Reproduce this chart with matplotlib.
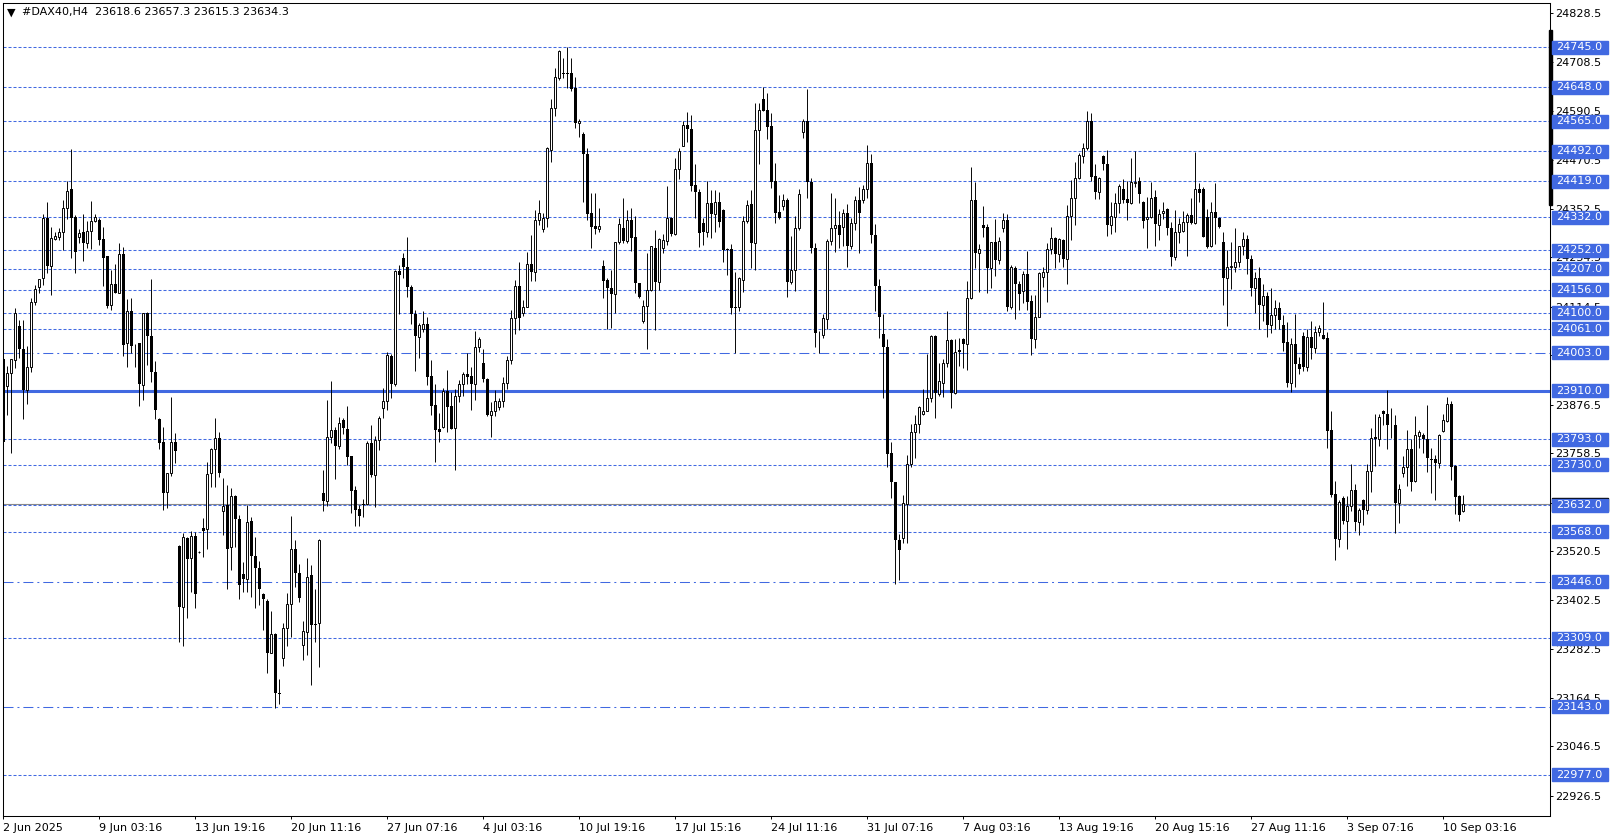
import numpy as np
import matplotlib
matplotlib.use('Agg')
import matplotlib.pyplot as plt
import matplotlib.transforms as mtransforms
from matplotlib.patches import Rectangle

plt.rcParams['font.family'] = ['DejaVu Sans']

header = '#DAX40,H4  23618.6 23657.3 23615.3 23634.3'

# H4 candles (oldest first)
opens = [
    23987, 23923, 23953, 23985, 24068, 24011, 23912, 23967, 24127, 24163,
    24184, 24329, 24214, 24280, 24285, 24297, 24355, 24400, 24332, 24285,
    24295, 24269, 24299, 24324, 24325, 24279, 24238, 24119, 24171, 24147,
    24243, 24026, 24105, 24020, 24026, 23924, 24099, 24044, 23957, 23841,
    23787, 23665, 23710, 23785, 23533, 23384, 23552, 23505, 23557, 23519,
    23578, 23574, 23710, 23770, 23795, 23618, 23633, 23530, 23655, 23598,
    23464, 23452, 23594, 23510, 23479, 23417, 23399, 23274, 23319, 23175,
    23260, 23333, 23392, 23527, 23467, 23293, 23325, 23463, 23343, 23345,
    23663, 23643, 23799, 23815, 23775, 23839, 23817, 23752, 23669, 23622,
    23635, 23635, 23784, 23706, 23791, 23868, 23886, 23995, 23927, 24201,
    24232, 24210, 24162, 24096, 24042, 24060, 24072, 23946, 23876, 23817,
    23823, 23911, 23873, 23819, 23898, 23927, 23951, 23946, 23927, 24017,
    23977, 23939, 23851, 23860, 23872, 23885, 23930, 23985, 24088, 24165,
    24099, 24115, 24218, 24198, 24325, 24303, 24331, 24496, 24597, 24671,
    24682, 24682, 24682, 24647, 24560, 24534, 24485, 24342, 24311, 24303,
    24214, 24180, 24161, 24146, 24271, 24307, 24275, 24325, 24283, 24172,
    24081, 24117, 24155, 24257, 24174, 24258, 24275, 24331, 24291, 24449,
    24506, 24555, 24546, 24410, 24393, 24317, 24295, 24366, 24339, 24368,
    24350, 24254, 24254, 24115, 24115, 24180, 24323, 24364, 24269, 24544,
    24619, 24593, 24554, 24420, 24345, 24359, 24374, 24174, 24205, 24307,
    24538, 24566, 24418, 24258, 24054, 24046, 24084, 24275, 24305, 24312,
    24309, 24342, 24261, 24317, 24374, 24374, 24400, 24463, 24290, 24166,
    24048, 24016, 23758, 23688, 23548, 23552, 23635, 23732, 23809, 23830,
    23855, 23861, 23894, 24043, 23902, 23930, 23977, 24034, 23906, 24009,
    24035, 24024, 24135, 24374, 24246, 24313, 24309, 24208, 24271, 24227,
    24307, 24325, 24115, 24208, 24169, 24154, 24194, 24129, 24035, 24090,
    24186, 24200, 24254, 24281, 24243, 24277, 24230, 24334, 24380, 24427,
    24481, 24501, 24566, 24432, 24394, 24481, 24461, 24313, 24332, 24366,
    24400, 24376, 24366, 24416, 24419, 24368, 24327, 24332, 24382, 24313,
    24342, 24351, 24305, 24236, 24297, 24299, 24320, 24338, 24319, 24400,
    24400, 24332, 24261, 24344, 24329, 24271, 24184, 24212, 24212, 24223,
    24261, 24280, 24230, 24160, 24185, 24120, 24140, 24070, 24095, 24111,
    24070, 24028, 23930, 24023, 23975, 24043, 23969, 24040, 24015, 24052,
    24047, 24038, 23815, 23659, 23549, 23651, 23595, 23631, 23669, 23591,
    23645, 23621, 23715, 23797, 23792, 23861, 23855, 23827, 23827, 23637,
    23711, 23724, 23768, 23692, 23801, 23803, 23792, 23744, 23744, 23734,
    23813, 23838, 23878, 23728, 23655, 23618.6,
]
highs = [
    24017, 23971, 23988, 24111, 24082, 24082, 24019, 24135, 24167, 24183,
    24341, 24370, 24309, 24297, 24307, 24374, 24420, 24498, 24337, 24303,
    24340, 24323, 24371, 24341, 24329, 24309, 24239, 24205, 24218, 24269,
    24259, 24133, 24135, 24023, 24027, 24100, 24101, 24181, 23983, 23843,
    23823, 23711, 23896, 23807, 23535, 23564, 23554, 23570, 23568, 23522,
    23602, 23738, 23772, 23845, 23811, 23698, 23681, 23673, 23656, 23608,
    23495, 23633, 23604, 23556, 23497, 23418, 23404, 23375, 23321, 23209,
    23345, 23420, 23606, 23548, 23489, 23351, 23505, 23487, 23428, 23549,
    23718, 23888, 23934, 23823, 23846, 23843, 23873, 23753, 23679, 23634,
    23647, 23788, 23827, 23801, 23849, 23916, 24005, 24000, 24205, 24216,
    24246, 24285, 24167, 24107, 24074, 24105, 24090, 23985, 23927, 23856,
    23916, 23962, 23908, 23914, 23936, 23957, 24001, 23969, 24056, 24042,
    24012, 23941, 23884, 23912, 23892, 23945, 23995, 24107, 24180, 24224,
    24131, 24248, 24289, 24350, 24374, 24342, 24502, 24619, 24694, 24739,
    24718, 24745, 24718, 24674, 24571, 24540, 24500, 24390, 24390, 24355,
    24228, 24185, 24204, 24273, 24330, 24380, 24350, 24355, 24334, 24173,
    24131, 24244, 24263, 24300, 24281, 24291, 24408, 24333, 24477, 24500,
    24566, 24587, 24581, 24462, 24401, 24331, 24420, 24398, 24398, 24394,
    24352, 24257, 24266, 24200, 24188, 24336, 24374, 24398, 24610, 24609,
    24649, 24633, 24586, 24463, 24386, 24388, 24378, 24286, 24335, 24400,
    24570, 24643, 24427, 24269, 24056, 24097, 24278, 24390, 24378, 24347,
    24351, 24364, 24329, 24384, 24406, 24410, 24508, 24486, 24316, 24182,
    24097, 24035, 23787, 23689, 23562, 23657, 23754, 23830, 23851, 23873,
    23914, 23999, 24046, 24046, 23979, 23987, 24103, 24035, 24035, 24038,
    24038, 24177, 24453, 24418, 24266, 24359, 24316, 24273, 24328, 24283,
    24342, 24339, 24216, 24214, 24176, 24202, 24250, 24143, 24143, 24200,
    24210, 24269, 24309, 24285, 24282, 24278, 24362, 24423, 24467, 24489,
    24512, 24590, 24586, 24461, 24431, 24483, 24495, 24368, 24392, 24413,
    24424, 24421, 24475, 24493, 24431, 24372, 24382, 24417, 24398, 24351,
    24368, 24354, 24320, 24350, 24329, 24347, 24342, 24378, 24490, 24416,
    24405, 24351, 24370, 24416, 24333, 24295, 24252, 24273, 24305, 24262,
    24295, 24290, 24240, 24200, 24210, 24170, 24150, 24160, 24130, 24125,
    24094, 24078, 24038, 24097, 23992, 24054, 24060, 24080, 24068, 24070,
    24125, 24054, 23861, 23691, 23645, 23655, 23655, 23732, 23685, 23625,
    23647, 23732, 23819, 23855, 23855, 23864, 23912, 23868, 23851, 23685,
    23752, 23815, 23793, 23849, 23815, 23807, 23876, 23772, 23754, 23805,
    23855, 23896, 23886, 23730, 23657, 23657.3,
]
lows = [
    23780, 23851, 23758, 23965, 23991, 23841, 23878, 23957, 24119, 24147,
    24167, 24197, 24143, 24277, 24277, 24252, 24327, 24234, 24197, 24269,
    24226, 24258, 24255, 24321, 24265, 24166, 24111, 24107, 24147, 24147,
    23995, 23969, 24001, 23967, 23873, 23889, 23973, 23932, 23841, 23770,
    23621, 23626, 23704, 23734, 23300, 23290, 23357, 23422, 23382, 23517,
    23507, 23527, 23676, 23676, 23700, 23560, 23428, 23475, 23531, 23404,
    23422, 23422, 23410, 23382, 23390, 23329, 23224, 23272, 23140, 23150,
    23242, 23290, 23311, 23434, 23398, 23256, 23268, 23195, 23301, 23238,
    23617, 23630, 23783, 23695, 23770, 23805, 23730, 23614, 23582, 23582,
    23603, 23633, 23702, 23629, 23766, 23843, 23864, 23892, 23923, 24096,
    24184, 24139, 24073, 23959, 23989, 24052, 23924, 23851, 23738, 23787,
    23821, 23811, 23817, 23719, 23884, 23898, 23928, 23864, 23888, 24005,
    23932, 23849, 23799, 23849, 23864, 23870, 23915, 23975, 24048, 24058,
    24092, 24115, 24177, 24177, 24312, 24295, 24309, 24466, 24579, 24666,
    24670, 24647, 24639, 24550, 24528, 24368, 24325, 24258, 24291, 24297,
    24137, 24060, 24062, 24099, 24267, 24269, 24269, 24249, 24147, 24135,
    24074, 24011, 24154, 24058, 24155, 24244, 24265, 24287, 24289, 24425,
    24504, 24514, 24396, 24331, 24259, 24265, 24285, 24282, 24297, 24309,
    24224, 24192, 24096, 24001, 24103, 24151, 24317, 24209, 24205, 24461,
    24589, 24521, 24402, 24317, 24327, 24350, 24139, 24170, 24154, 24301,
    24524, 24378, 24244, 24017, 24001, 24038, 24060, 24265, 24248, 24258,
    24262, 24210, 24254, 24301, 24244, 24367, 24378, 24270, 24105, 24038,
    23892, 23724, 23651, 23442, 23450, 23540, 23541, 23724, 23748, 23808,
    23851, 23860, 23884, 23845, 23898, 23896, 23969, 23868, 23902, 23971,
    23965, 23962, 24133, 24208, 24151, 24285, 24147, 24161, 24189, 24218,
    24297, 24105, 24108, 24084, 24107, 24123, 24107, 23997, 24014, 24089,
    24163, 24127, 24243, 24208, 24224, 24212, 24171, 24277, 24313, 24424,
    24465, 24496, 24421, 24376, 24376, 24447, 24287, 24291, 24295, 24343,
    24366, 24325, 24364, 24406, 24366, 24307, 24257, 24329, 24261, 24277,
    24327, 24289, 24214, 24227, 24270, 24297, 24239, 24316, 24316, 24370,
    24283, 24257, 24259, 24267, 24307, 24119, 24068, 24157, 24200, 24212,
    24240, 24195, 24140, 24100, 24060, 24080, 24040, 24050, 24060, 24060,
    24008, 23920, 23907, 23920, 23951, 23959, 23959, 23988, 24001, 24043,
    24036, 23772, 23653, 23499, 23531, 23586, 23527, 23617, 23570, 23560,
    23583, 23610, 23665, 23728, 23777, 23827, 23770, 23796, 23564, 23590,
    23702, 23679, 23668, 23689, 23772, 23758, 23714, 23661, 23645, 23722,
    23809, 23835, 23693, 23610, 23595, 23615.3,
]
closes = [
    23787, 23953, 23987, 24099, 24011, 23912, 23967, 24127, 24157, 24181,
    24329, 24214, 24281, 24286, 24296, 24354, 24396, 24331, 24248, 24293,
    24269, 24299, 24323, 24332, 24277, 24234, 24116, 24171, 24149, 24243,
    24022, 24105, 24019, 24018, 23927, 24099, 24044, 23957, 23864, 23784,
    23663, 23710, 23785, 23765, 23384, 23554, 23501, 23557, 23416, 23519,
    23570, 23708, 23770, 23795, 23710, 23630, 23527, 23655, 23598, 23438,
    23452, 23592, 23510, 23479, 23428, 23404, 23274, 23319, 23175, 23173,
    23333, 23392, 23525, 23467, 23408, 23327, 23459, 23341, 23340, 23548,
    23643, 23799, 23815, 23775, 23833, 23819, 23750, 23667, 23621, 23606,
    23632, 23784, 23706, 23791, 23845, 23886, 23997, 23926, 24202, 24192,
    24210, 24162, 24096, 24044, 24070, 24072, 23945, 23873, 23815, 23811,
    23911, 23872, 23817, 23898, 23926, 23951, 23945, 23927, 24016, 24035,
    23939, 23851, 23861, 23885, 23885, 23930, 23985, 24088, 24165, 24088,
    24113, 24218, 24198, 24325, 24342, 24331, 24500, 24597, 24672, 24736,
    24679, 24679, 24643, 24560, 24566, 24485, 24340, 24309, 24303, 24311,
    24177, 24159, 24146, 24271, 24315, 24275, 24325, 24281, 24172, 24139,
    24117, 24155, 24261, 24174, 24278, 24277, 24331, 24291, 24449, 24493,
    24555, 24546, 24409, 24393, 24293, 24295, 24366, 24339, 24368, 24320,
    24253, 24253, 24112, 24112, 24184, 24323, 24362, 24269, 24544, 24593,
    24589, 24552, 24418, 24343, 24331, 24374, 24174, 24205, 24307, 24388,
    24566, 24418, 24258, 24051, 24052, 24086, 24275, 24305, 24313, 24289,
    24342, 24261, 24319, 24374, 24342, 24400, 24463, 24290, 24166, 24089,
    24016, 23757, 23688, 23548, 23523, 23637, 23732, 23811, 23829, 23870,
    23861, 23894, 24043, 23904, 23934, 23977, 24034, 23906, 24005, 24005,
    24023, 24135, 24374, 24246, 24254, 24307, 24208, 24271, 24227, 24275,
    24325, 24115, 24210, 24169, 24145, 24194, 24127, 24035, 24090, 24196,
    24200, 24254, 24281, 24243, 24279, 24230, 24334, 24378, 24427, 24483,
    24501, 24566, 24431, 24394, 24427, 24461, 24313, 24334, 24366, 24408,
    24374, 24366, 24417, 24418, 24388, 24324, 24332, 24380, 24315, 24339,
    24348, 24305, 24236, 24297, 24315, 24320, 24338, 24319, 24400, 24392,
    24285, 24259, 24344, 24329, 24309, 24184, 24212, 24214, 24223, 24261,
    24280, 24230, 24160, 24185, 24120, 24140, 24070, 24095, 24111, 24082,
    24027, 23930, 24023, 23975, 23963, 23969, 24040, 24015, 24052, 24064,
    24036, 23813, 23657, 23549, 23639, 23595, 23631, 23669, 23591, 23621,
    23621, 23715, 23795, 23792, 23846, 23855, 23826, 23826, 23637, 23671,
    23724, 23768, 23689, 23803, 23809, 23792, 23746, 23743, 23734, 23803,
    23839, 23878, 23724, 23653, 23608, 23634.3,
]

date_labels = ['2 Jun 2025', '9 Jun 03:16', '13 Jun 19:16', '20 Jun 11:16',
               '27 Jun 07:16', '4 Jul 03:16', '10 Jul 19:16', '17 Jul 15:16',
               '24 Jul 11:16', '31 Jul 07:16', '7 Aug 03:16', '13 Aug 19:16',
               '20 Aug 15:16', '27 Aug 11:16', '3 Sep 07:16', '10 Sep 03:16']
bars_per_label = 24

price_ticks = [24828.5, 24708.5, 24590.5, 24470.5, 24352.5, 24234.5, 24114.5,
               23996.5, 23876.5, 23758.5, 23638.5, 23520.5, 23402.5, 23282.5,
               23164.5, 23046.5, 22926.5]

# horizontal levels drawn on the chart
levels = [24745, 24648, 24565, 24492, 24419, 24332, 24252, 24207, 24156, 24100,
          24061, 24003, 23910, 23793, 23730, 23632, 23568, 23446, 23309, 23143,
          22977]
level_kinds = ['dash'] * 11 + ['dashdot', 'solid'] + ['dash'] * 4 + \
              ['dashdot', 'dash', 'dashdot', 'dash']

blue = '#4169E1'
W, H = 1614, 840

opens = np.array(opens, dtype=float)
highs = np.array(highs, dtype=float)
lows = np.array(lows, dtype=float)
closes = np.array(closes, dtype=float)
x = np.arange(len(opens))

fig = plt.figure(figsize=(W / 100, H / 100), dpi=100)
left_px, right_px, top_px, bot_px = 2.5, 1550, 2.5, 816
ax = fig.add_axes([left_px / W, 1 - bot_px / H,
                   (right_px - left_px) / W, (bot_px - top_px) / H])

# 4 px per bar, first bar centred 3.3 px into the frame
ax.set_xlim((left_px - 3.3) / 4, (right_px - 3.3) / 4)
ppx = 2.43  # price per pixel
ax.set_ylim(24745 - (bot_px - 47.3) * ppx, 24745 + (47.3 - top_px) * ppx)

# levels
styles = {'dash': dict(ls=(0, (2.9, 1.9)), lw=0.75),
          'dashdot': dict(ls=(0, (9.6, 3.8, 1.9, 3.8)), lw=0.75),
          'solid': dict(ls='-', lw=2.2)}
ax.axhline(closes[-1], color='#8a8a8a', lw=0.8, zorder=1)
for lev, kind in zip(levels, level_kinds):
    ax.axhline(lev, color=blue, zorder=1.5, **styles[kind])

# candles
up = closes >= opens
body_lo = np.minimum(opens, closes)
body_h = np.abs(closes - opens)
ax.vlines(x, lows, highs, color='black', lw=0.68, zorder=3)
ax.bar(x[up], body_h[up], bottom=body_lo[up], width=0.5, color='white',
       edgecolor='black', linewidth=0.68, zorder=4)
ax.bar(x[~up], body_h[~up], bottom=body_lo[~up], width=0.72, color='black',
       linewidth=0, zorder=4)

# axes / ticks
for s in ax.spines.values():
    s.set_linewidth(0.75)
    s.set_color('black')
ax.yaxis.tick_right()
ax.set_yticks(price_ticks)
ax.set_yticklabels(['%.1f' % p for p in price_ticks])
ax.tick_params(axis='y', direction='out', length=2.2, width=0.7, pad=1.8,
               labelsize=8, colors='black')
ax.set_xticks(np.arange(len(date_labels)) * bars_per_label)
ax.set_xticklabels(date_labels)
ax.tick_params(axis='x', direction='out', length=2.2, width=0.7, pad=2.5,
               labelsize=8, colors='black')
for lbl in ax.get_xticklabels():
    lbl.set_ha('left')

# price labels on the right scale
trans = mtransforms.blended_transform_factory(ax.transAxes, ax.transData)
axw = right_px - left_px
def fx(px):
    return (px - left_px) / axw

box_h = 13 * ppx
ax.add_patch(Rectangle((fx(1548.5), 24362), 3.5 / axw, 24787 - 24362,
                       transform=trans, color='black', clip_on=False, zorder=5))
ax.add_patch(Rectangle((fx(1552), closes[-1] - box_h / 2), 56 / axw, box_h,
                       transform=trans, color='black', clip_on=False, zorder=5))
for lev in levels:
    ax.add_patch(Rectangle((fx(1552), lev - box_h / 2), 56 / axw, box_h,
                           transform=trans, color=blue, clip_on=False, zorder=6))
    ax.text(fx(1556.5), lev, '%.1f' % lev, transform=trans, color='white',
            fontsize=8, va='center', ha='left', zorder=7, clip_on=False)

fig.text(7 / W, 1 - 12.5 / H, '▼', fontsize=8, va='center', ha='left')
fig.text(22 / W, 1 - 12.5 / H, header, fontsize=8, va='center', ha='left')

fig.savefig('out.png', dpi=100)
